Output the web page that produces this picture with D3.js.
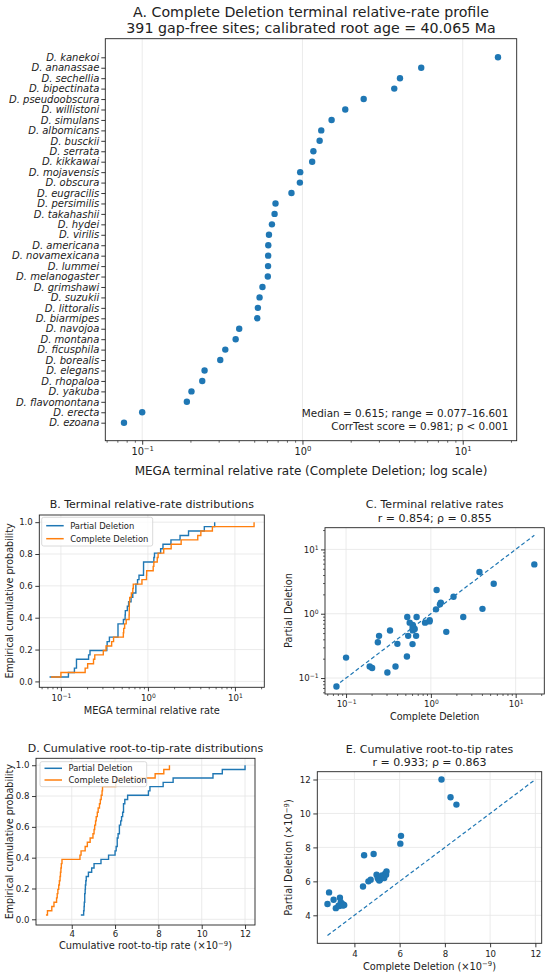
<!DOCTYPE html>
<html><head><meta charset="utf-8">
<script src="https://cdn.jsdelivr.net/npm/d3@7"></script>
<style>
body{margin:0;background:#fff}
svg{font-family:"DejaVu Sans",sans-serif}
</style></head><body>
<svg id="fig" width="550" height="976"></svg>
<script>
// species, top to bottom as in panel A
const species = ["kanekoi","ananassae","sechellia","bipectinata","pseudoobscura","willistoni","simulans",
  "albomicans","busckii","serrata","kikkawai","mojavensis","obscura","eugracilis","persimilis","takahashii",
  "hydei","virilis","americana","novamexicana","lummei","melanogaster","grimshawi","suzukii","littoralis",
  "biarmipes","navojoa","montana","ficusphila","borealis","elegans","rhopaloa","yakuba","flavomontana",
  "erecta","ezoana"];
// MEGA terminal relative rates
const cdTerminal = [16.601,5.51,4.06,3.74,2.41,1.85,1.52,1.31,1.28,1.17,1.15,0.968,0.964,0.854,0.679,0.670,
  0.645,0.618,0.612,0.611,0.610,0.608,0.563,0.540,0.527,0.522,0.403,0.383,0.330,0.307,0.245,0.237,0.203,0.190,
  0.100,0.077];
const pdTerminal = [5.85,2.93,1.19,4.45,0.89,1.84,0.523,1.49,1.40,2.34,1.17,0.79,0.76,0.727,0.891,0.453,
  0.58,0.64,0.55,0.67,0.60,0.337,0.727,0.453,0.891,0.216,0.340,0.151,0.547,0.122,0.453,0.361,0.143,0.151,
  0.208,0.074];
// cumulative root-to-tip rates (x10^-9), paired per point
const cdRtt = [2.81,2.88,3.08,3.18,3.30,3.33,3.36,3.40,3.43,3.46,3.48,3.50,3.52,3.55,
  4.38,4.43,4.62,4.72,4.85,4.98,5.03,5.06,5.10,5.13,5.18,5.22,5.28,5.32,5.36,5.40,5.42,
  6.03,6.06,7.85,8.25,8.51];
const pdRtt = [4.67,5.35,4.92,4.42,4.57,4.55,5.03,4.77,4.63,4.60,4.65,4.58,4.62,4.60,
  5.70,7.54,6.00,6.10,7.61,6.39,6.20,6.14,6.05,6.10,6.26,6.35,6.30,6.20,6.45,6.39,6.58,
  8.22,8.68,12.0,10.95,10.52];

const logTicks = [0.1, 1, 10];
const probTicks = [0, 0.2, 0.4, 0.6, 0.8, 1.0];
const rttTicks = [4, 6, 8, 10, 12];
const seriesNames = ["Partial Deletion", "Complete Deletion"];
const statsA = ["Median = 0.615; range = 0.077\u201316.601", "CorrTest score = 0.981; p < 0.001"];

const BLUE = "#1f77b4", ORANGE = "#ff7f0e", INK = "#222", GRID = "#e6e6e6";
const svg = d3.select("#fig");

function padLog(ext, f) { const a = Math.log10(ext[0]), b = Math.log10(ext[1]), d = (b - a) * f; return [10 ** (a - d), 10 ** (b + d)]; }
function padLin(ext, f) { const d = (ext[1] - ext[0]) * f; return [ext[0] - d, ext[1] + d]; }
function expo(v) { const e = Math.round(Math.log10(v)); return e < 0 ? "\u2212" + (-e) : String(e); }
function sup(t, base, ex) {
  t.text(null);
  t.append("tspan").text(base);
  t.append("tspan").attr("dy", "-0.5em").attr("font-size", "0.7em").text(ex);
}
function minorTicks(sc) {
  const [a, b] = sc.domain(), out = [];
  for (let k = Math.floor(Math.log10(a)); k <= Math.ceil(Math.log10(b)); k++)
    for (let m = 2; m <= 9; m++) { const v = m * 10 ** k; if (v >= a && v <= b) out.push(v); }
  return out;
}

function frame(p, x, y, o) {
  const g = svg.append("g");
  if (o.gridX) g.selectAll(null).data(o.xt).join("line").attr("x1", d => x(d)).attr("x2", d => x(d))
    .attr("y1", p.t).attr("y2", p.b).attr("stroke", GRID).attr("stroke-width", 0.8);
  if (o.gridY) g.selectAll(null).data(o.yt).join("line").attr("y1", d => y(d)).attr("y2", d => y(d))
    .attr("x1", p.l).attr("x2", p.r).attr("stroke", GRID).attr("stroke-width", 0.8);
  const fs = o.fs || 8.6;
  const ax = g.append("g").attr("transform", `translate(0,${p.b})`)
    .call(d3.axisBottom(x).tickValues(o.xt).tickSize(4).tickPadding(o.xpad || 3.2).tickFormat(o.xf || (() => "")));
  const ay = g.append("g").attr("transform", `translate(${p.l},0)`)
    .call(o.yAxis || d3.axisLeft(y).tickValues(o.yt).tickSize(4).tickPadding(2.5).tickFormat(o.yf || (() => "")));
  [ax, ay].forEach(a => {
    a.attr("font-family", null).attr("font-size", fs);
    a.select(".domain").remove();
    a.selectAll("line").attr("stroke", INK).attr("stroke-width", 0.9);
    a.selectAll("text").attr("fill", INK);
  });
  if (o.xlog) {
    ax.selectAll("text").each(function (d) { sup(d3.select(this), "10", expo(d)); });
    g.append("g").attr("transform", `translate(0,${p.b})`)
      .call(d3.axisBottom(x).tickValues(minorTicks(x)).tickSize(2).tickFormat(""))
      .call(a => { a.select(".domain").remove(); a.selectAll("line").attr("stroke", INK).attr("stroke-width", 0.7); });
  }
  if (o.ylog) {
    ay.selectAll("text").each(function (d) { sup(d3.select(this), "10", expo(d)); });
    g.append("g").attr("transform", `translate(${p.l},0)`)
      .call(d3.axisLeft(y).tickValues(minorTicks(y)).tickSize(2).tickFormat(""))
      .call(a => { a.select(".domain").remove(); a.selectAll("line").attr("stroke", INK).attr("stroke-width", 0.7); });
  }
  return { g, ax, ay };
}
function spine(p) {
  svg.append("rect").attr("x", p.l).attr("y", p.t).attr("width", p.r - p.l).attr("height", p.b - p.t)
    .attr("fill", "none").attr("stroke", INK).attr("stroke-width", 0.9);
}
function label(x, y, txt, fs, rot, anchor) {
  const t = svg.append("text").attr("font-size", fs).attr("fill", INK).attr("text-anchor", anchor || "middle")
    .attr("transform", `translate(${x},${y})` + (rot ? " rotate(-90)" : ""));
  if (Array.isArray(txt)) { t.text(txt[0]); t.append("tspan").attr("dy", "-0.5em").attr("font-size", "0.7em").text(txt[1]); t.append("tspan").attr("dy", "0.35em").text(txt[2] || ""); }
  else t.text(txt);
  return t;
}
function ecdf(vals) { const s = vals.slice().sort(d3.ascending); return s.map((v, i) => [v, (i + 1) / s.length]); }
function legend(x0, y0, w, h, rows, gap) {
  const g = svg.append("g");
  g.append("rect").attr("x", x0).attr("y", y0).attr("width", w).attr("height", h).attr("rx", 2)
    .attr("fill", "#fff").attr("fill-opacity", 0.8).attr("stroke", "#d0d0d0").attr("stroke-width", 0.8);
  seriesNames.forEach((n, i) => {
    const yy = y0 + rows + i * gap;
    g.append("line").attr("x1", x0 + 4.5).attr("x2", x0 + 22).attr("y1", yy).attr("y2", yy)
      .attr("stroke", i ? ORANGE : BLUE).attr("stroke-width", 1.5);
    g.append("text").attr("x", x0 + 28.5).attr("y", yy + 3).attr("font-size", 8.4).attr("fill", INK).text(n);
  });
}

// ---------- A ----------
const PA = { l: 105.3, r: 516.7, t: 38.7, b: 440.7 };
const xA = d3.scaleLog().domain(padLog(d3.extent(cdTerminal), 0.05)).range([PA.l, PA.r]);
const yA = d3.scalePoint().domain(species).range([57.3, 422.7]);
frame(PA, xA, yA, {
  xt: logTicks, xlog: true, gridX: true, fs: 9.8, xf: d => d,
  yAxis: d3.axisLeft(yA).tickSize(4).tickPadding(2).tickFormat(d => "D. " + d)
}).ay.selectAll("text").attr("font-size", 10).attr("font-style", "italic");
svg.append("g").selectAll("circle").data(species).join("circle")
  .attr("cx", (d, i) => xA(cdTerminal[i])).attr("cy", d => yA(d)).attr("r", 3.2).attr("fill", BLUE);
spine(PA);
label(311, 17, "A. Complete Deletion terminal relative-rate profile", 14.2);
label(311, 33, "391 gap-free sites; calibrated root age = 40.065 Ma", 14.2);
label(311, 475, "MEGA terminal relative rate (Complete Deletion; log scale)", 12);
statsA.forEach((s, i) => label(508.3, 417.3 + i * 12.7, s, 10.4, false, "end"));

// ---------- B ----------
const PB = { l: 39.3, r: 264.3, t: 515, b: 687.3 };
const termExt = padLog(d3.extent(cdTerminal.concat(pdTerminal)), 0.05);
const xB = d3.scaleLog().domain(termExt).range([PB.l, PB.r]);
const yB = d3.scaleLinear().domain([-0.037, 1.045]).range([PB.b, PB.t]);
frame(PB, xB, yB, { xt: logTicks, yt: probTicks, xlog: true, gridX: true, gridY: true, xf: d => d, yf: d3.format(".1f") });
const stepB = d3.line().x(d => xB(d[0])).y(d => yB(d[1])).curve(d3.curveStepAfter);
[pdTerminal, cdTerminal].forEach((arr, i) => svg.append("path").attr("d", stepB(ecdf(arr)))
  .attr("fill", "none").attr("stroke", i ? ORANGE : BLUE).attr("stroke-width", 1.4));
spine(PB);
legend(41.7, 517.3, 111, 28.7, 8.4, 13);
label(151.8, 508, "B. Terminal relative-rate distributions", 11);
label(151.8, 713.5, "MEGA terminal relative rate", 9.8);
label(12.5, 601, "Empirical cumulative probability", 9.6, true);

// ---------- C ----------
const PC = { l: 325, r: 544.3, t: 527.7, b: 694 };
const xC = d3.scaleLog().domain(termExt).range([PC.l, PC.r]);
const yC = d3.scaleLog().domain(termExt).range([PC.b, PC.t]);
frame(PC, xC, yC, { xt: logTicks, yt: logTicks, xlog: true, ylog: true, gridX: true, gridY: true, xf: d => d, yf: d => d });
const lineC = d3.extent(cdTerminal.concat(pdTerminal));
svg.append("line").attr("x1", xC(lineC[0])).attr("y1", yC(lineC[0])).attr("x2", xC(lineC[1])).attr("y2", yC(lineC[1]))
  .attr("stroke", BLUE).attr("stroke-width", 1.2).attr("stroke-dasharray", "4,2.5");
svg.append("g").selectAll("circle").data(cdTerminal).join("circle")
  .attr("cx", d => xC(d)).attr("cy", (d, i) => yC(pdTerminal[i])).attr("r", 3.2).attr("fill", BLUE);
spine(PC);
label(434.7, 508.3, "C. Terminal relative rates", 11);
label(434.7, 521.7, "r = 0.854; \u03c1 = 0.855", 11);
label(434.7, 719.5, "Complete Deletion", 9.6);
label(292, 610.5, "Partial Deletion", 9.8, true);

// ---------- D ----------
const PD = { l: 36, r: 255, t: 758.3, b: 925 };
const rttExt = d3.extent(cdRtt.concat(pdRtt));
const xD = d3.scaleLinear().domain(padLin(rttExt, 0.05)).range([PD.l, PD.r]);
const yD = d3.scaleLinear().domain([-0.037, 1.045]).range([PD.b, PD.t]);
frame(PD, xD, yD, { xt: rttTicks, yt: probTicks, gridX: true, gridY: true, xpad: 1.8, xf: d3.format("d"), yf: d3.format(".1f") });
const stepD = d3.line().x(d => xD(d[0])).y(d => yD(d[1])).curve(d3.curveStepAfter);
[pdRtt, cdRtt].forEach((arr, i) => svg.append("path").attr("d", stepD(ecdf(arr)))
  .attr("fill", "none").attr("stroke", i ? ORANGE : BLUE).attr("stroke-width", 1.4));
spine(PD);
legend(40, 761.7, 106.7, 25, 6.6, 11.7);
label(145.5, 751.7, "D. Cumulative root-to-tip-rate distributions", 11);
label(145.5, 949, ["Cumulative root-to-tip rate (\u00d710", "\u22129", ")"], 9.8);
label(12.5, 841.7, "Empirical cumulative probability", 9.6, true);

// ---------- E ----------
const PE = { l: 317.3, r: 541.7, t: 771.7, b: 943.3 };
const xE = d3.scaleLinear().domain([2.36, 12.28]).range([PE.l, PE.r]);
const yE = d3.scaleLinear().domain(padLin(rttExt, 0.05)).range([PE.b, PE.t]);
frame(PE, xE, yE, { xt: rttTicks, yt: rttTicks, gridX: true, gridY: true, xf: d3.format("d"), yf: d3.format("d") });
svg.append("line").attr("x1", xE(rttExt[0])).attr("y1", yE(rttExt[0])).attr("x2", xE(rttExt[1])).attr("y2", yE(rttExt[1]))
  .attr("stroke", BLUE).attr("stroke-width", 1.2).attr("stroke-dasharray", "4,2.5");
svg.append("g").selectAll("circle").data(cdRtt).join("circle")
  .attr("cx", d => xE(d)).attr("cy", (d, i) => yE(pdRtt[i])).attr("r", 3.2).attr("fill", BLUE);
spine(PE);
label(429.5, 752.7, "E. Cumulative root-to-tip rates", 11);
label(429.5, 766, "r = 0.933; \u03c1 = 0.863", 11);
label(429.5, 969.5, ["Complete Deletion (\u00d710", "\u22129", ")"], 9.8);
label(292, 857.5, ["Partial Deletion (\u00d710", "\u22129", ")"], 9.8, true);
</script>
</body></html>
